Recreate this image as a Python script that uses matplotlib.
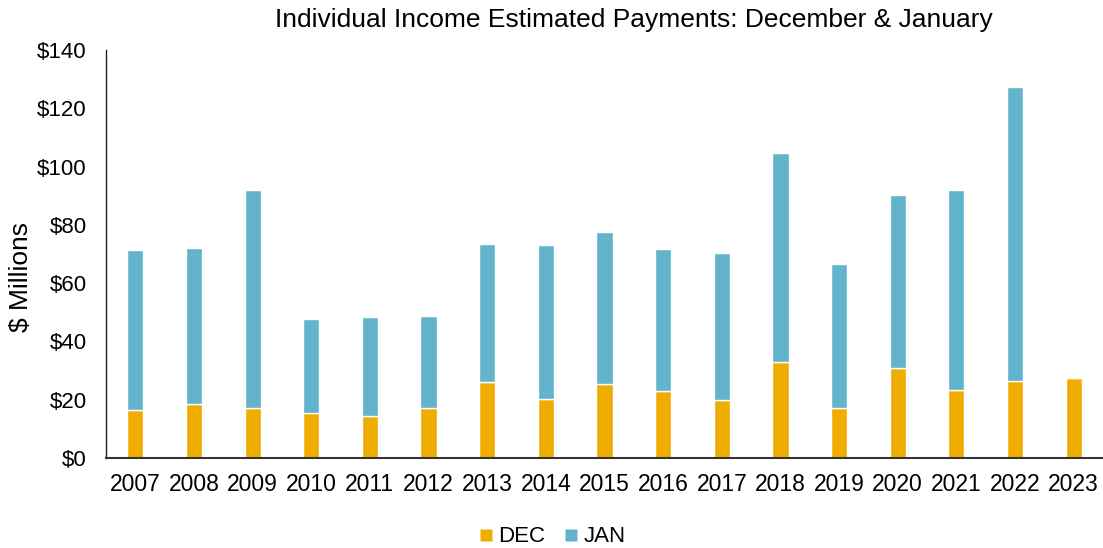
import matplotlib
matplotlib.use("Agg")
import matplotlib.pyplot as plt
from matplotlib.lines import Line2D
import numpy as np

years = ["2007", "2008", "2009", "2010", "2011", "2012", "2013", "2014", "2015",
         "2016", "2017", "2018", "2019", "2020", "2021", "2022", "2023"]
dec = [16.3, 18.5, 17.2, 15.3, 14.5, 17.2, 26.2, 20.2, 25.5,
       23.1, 19.8, 33.0, 17.0, 30.9, 23.4, 26.4, 27.4]
total = [71.4, 71.9, 92.0, 47.8, 48.3, 48.7, 73.5, 73.0, 77.7,
         71.8, 70.3, 104.5, 66.5, 90.1, 91.8, 127.3, None]
jan = [(t - d) if t is not None else 0 for t, d in zip(total, dec)]

yticks = [0, 20, 40, 60, 80, 100, 120, 140]
ytick_labels = ["$0", "$20", "$40", "$60", "$80", "$100", "$120", "$140"]

plt.rcParams['font.family'] = ['Liberation Sans', 'DejaVu Sans']

fig = plt.figure(figsize=(11.03, 5.48), dpi=100)
ax = fig.add_axes([106 / 1103, 1 - 458 / 548, 1 - 106 / 1103, (458 - 50) / 548])

x = np.arange(len(years))
w = 0.275
c_dec = "#F0AD00"
c_jan = "#62B3CC"
ax.bar(x, dec, width=w, color=c_dec, edgecolor="white", linewidth=1, zorder=2)
ax.bar(x, jan, width=w, bottom=dec, color=c_jan, edgecolor="white", linewidth=1, zorder=2)

ax.set_xlim(-0.5, len(years) - 0.5)
ax.set_ylim(0, 140)
ax.set_yticks(yticks)
ax.set_yticklabels(ytick_labels, fontsize=16)
ax.set_xticks(x)
ax.set_xticklabels(years, fontsize=16.5)
ax.tick_params(axis='x', length=0, pad=11)
ax.tick_params(axis='y', length=0, pad=14)

for s in ["top", "right"]:
    ax.spines[s].set_visible(False)
ax.spines["left"].set_color("#222222")
ax.spines["bottom"].set_color("#333333")
ax.spines["left"].set_linewidth(1)
ax.spines["bottom"].set_linewidth(1.5)

fig.text(21 / 1103, 1 - 277 / 548, "$ Millions", rotation=90, ha="center", va="center",
         fontsize=19)
fig.text(634 / 1103, 1 - 20 / 548, "Individual Income Estimated Payments: December & January",
         ha="center", va="center", fontsize=19)

handles = [Line2D([], [], linestyle="none", marker="s", markersize=8.5,
                  markerfacecolor=c_dec, markeredgecolor="none"),
           Line2D([], [], linestyle="none", marker="s", markersize=8.5,
                  markerfacecolor=c_jan, markeredgecolor="none")]
fig.legend(handles, ["DEC", "JAN"], loc="center", bbox_to_anchor=(553 / 1103, 1 - 537 / 548),
           ncol=2, frameon=False, fontsize=16, handlelength=0.5, handletextpad=0.3,
           columnspacing=0.9, borderpad=0)

fig.savefig("out.png", dpi=100)
